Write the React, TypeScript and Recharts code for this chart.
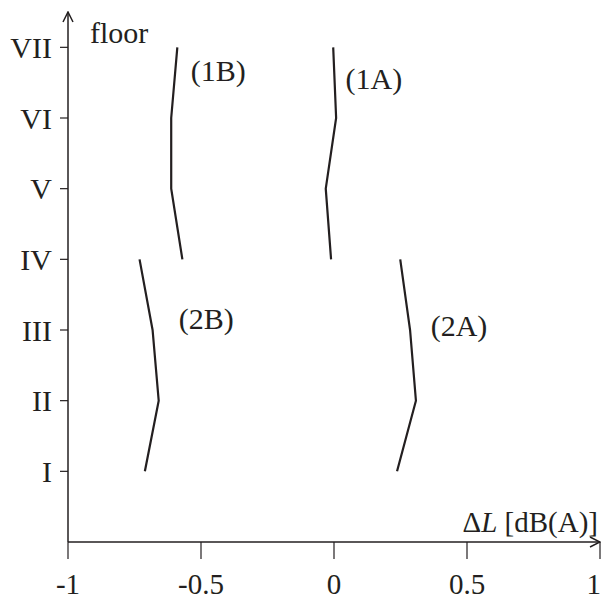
import { ScatterChart, Scatter, XAxis, YAxis, ReferenceDot } from 'recharts';

const floorLabels = ['', 'I', 'II', 'III', 'IV', 'V', 'VI', 'VII'];
const floorTicks = [1, 2, 3, 4, 5, 6, 7];
const xTicks = [-1, -0.5, 0, 0.5, 1];

// upper floors (1A / 1B), lower floors (2A / 2B)
const floorsUpper = [4, 5, 6, 7];
const series1A = [-0.011, -0.031, 0.008, -0.003];
const series1B = [-0.57, -0.612, -0.612, -0.589];
const floorsLower = [1, 2, 3, 4];
const series2A = [0.237, 0.308, 0.286, 0.249];
const series2B = [-0.711, -0.659, -0.682, -0.731];

const seriesLabels = [
  { name: '(1B)', x: -0.435, y: 6.67 },
  { name: '(1A)', x: 0.15, y: 6.56 },
  { name: '(2B)', x: -0.48, y: 3.17 },
  { name: '(2A)', x: 0.47, y: 3.07 },
];

const ink = '#231f20';
const font = '"Liberation Serif", "Times New Roman", serif';

const toPoints = (floors: number[], vals: number[]) =>
  floors.map((f, i) => ({ x: vals[i], y: f }));

const lines = [
  { key: '1A', data: toPoints(floorsUpper, series1A) },
  { key: '1B', data: toPoints(floorsUpper, series1B) },
  { key: '2A', data: toPoints(floorsLower, series2A) },
  { key: '2B', data: toPoints(floorsLower, series2B) },
];

const noShape = () => <g />;

export default function App() {
  return (
    <div style={{ position: 'absolute', left: 0, top: 0, background: '#fff' }}>
      <ScatterChart
        width={601}
        height={599}
        margin={{ top: 12, right: 1, bottom: 0, left: 0 }}
        style={{ fontFamily: font }}
      >
        <defs>
          <marker
            id="arrow"
            viewBox="0 0 12 12"
            refX="11"
            refY="6"
            markerWidth="12"
            markerHeight="12"
            markerUnits="userSpaceOnUse"
            orient="auto-start-reverse"
          >
            <path d="M1,1 L11,6 L1,11" fill="none" stroke={ink} strokeWidth={1.5} />
          </marker>
        </defs>
        <XAxis
          type="number"
          dataKey="x"
          domain={[-1, 1]}
          ticks={xTicks}
          height={57}
          tickSize={17}
          tickMargin={14}
          tickFormatter={(v: number) => String(v)}
          axisLine={{ stroke: ink, strokeWidth: 1.5, markerEnd: 'url(#arrow)' }}
          tickLine={{ stroke: ink, strokeWidth: 1.2 }}
          tick={{ fill: ink, fontSize: 29, fontFamily: font }}
          label={{
            content: (props: any) => {
              const vb = props.viewBox || { x: 68, y: 542, width: 532 };
              return (
                <text
                  x={vb.x + vb.width - 2}
                  y={vb.y - 10}
                  textAnchor="end"
                  fill={ink}
                  fontSize={29}
                  fontFamily={font}
                >
                  Δ<tspan fontStyle="italic">L</tspan> [dB(A)]
                </text>
              );
            },
          }}
        />
        <YAxis
          type="number"
          dataKey="y"
          domain={[0, 7.5]}
          ticks={floorTicks}
          tickSize={8}
          tickMargin={8}
          tickFormatter={(v: number) => floorLabels[v]}
          axisLine={{ stroke: ink, strokeWidth: 1.5, markerStart: 'url(#arrow)' }}
          tickLine={{ stroke: ink, strokeWidth: 1.2 }}
          tick={{ fill: ink, fontSize: 30, fontFamily: font }}
          width={68}
          label={{
            content: (props: any) => {
              const vb = props.viewBox || { x: 0, y: 12, width: 68 };
              return (
                <text
                  x={vb.x + vb.width + 22}
                  y={vb.y + 31}
                  fill={ink}
                  fontSize={30}
                  fontFamily={font}
                >
                  floor
                </text>
              );
            },
          }}
        />
        {lines.map((s) => (
          <Scatter
            key={s.key}
            data={s.data}
            line={{ stroke: ink, strokeWidth: 2.2 }}
            shape={noShape}
            isAnimationActive={false}
          />
        ))}
        {seriesLabels.map((l) => (
          <ReferenceDot
            key={l.name}
            x={l.x}
            y={l.y}
            r={0}
            fill="none"
            stroke="none"
            label={{ value: l.name, position: 'center', fill: ink, fontSize: 30, fontFamily: font }}
          />
        ))}
      </ScatterChart>
    </div>
  );
}
